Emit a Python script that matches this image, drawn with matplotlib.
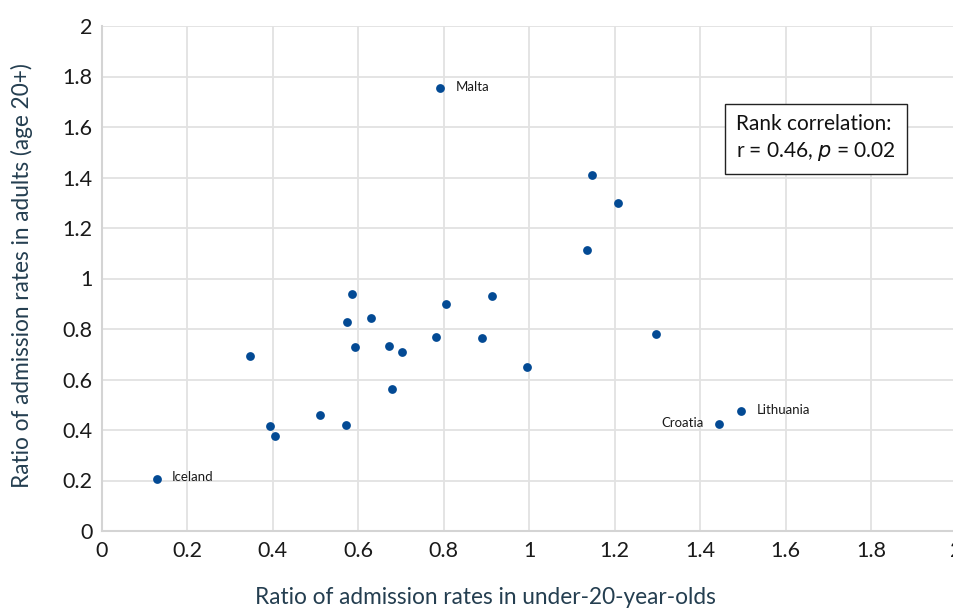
import matplotlib
matplotlib.use("Agg")
import matplotlib.pyplot as plt
import numpy as np

# ratio of admission rates: under-20s (x) vs adults 20+ (y), one point per country
countries = ["Malta", "", "", "", "", "", "", "", "", "", "", "", "",
             "", "", "", "", "", "", "", "Iceland", "", "", "Croatia", "Lithuania"]
ratio_young = [0.791, 0.584, 0.804, 1.146, 1.208, 1.134, 0.913, 0.574, 0.630,
               0.346, 0.592, 0.672, 0.701, 0.782, 0.889, 0.679, 0.510, 0.393,
               0.570, 0.404, 0.128, 0.995, 1.296, 1.445, 1.496]
ratio_adult = [1.754, 0.937, 0.899, 1.410, 1.300, 1.113, 0.931, 0.826, 0.844,
               0.694, 0.730, 0.733, 0.708, 0.768, 0.763, 0.564, 0.461, 0.417,
               0.418, 0.376, 0.207, 0.648, 0.780, 0.424, 0.475]

x_ticks = np.round(np.arange(0, 2.01, 0.2), 1)
y_ticks = np.round(np.arange(0, 2.01, 0.2), 1)

plt.rcParams['font.family'] = ['Lato', 'DejaVu Sans']

fig = plt.figure(figsize=(9.54, 6.08), dpi=100)
ax = fig.add_axes([102/954, 1-531/608, 854.6/954, 505/608])

ax.scatter(ratio_young, ratio_adult, s=40, color='#034a94', zorder=3, linewidths=0)

# country labels: Croatia sits left of its point, the others right
for name, xv, yv in zip(countries, ratio_young, ratio_adult):
    if not name:
        continue
    if name == "Croatia":
        ax.annotate(name, (xv, yv), xytext=(-11, 1), textcoords='offset points',
                    ha='right', va='center', fontsize=9.5, color='#1a1a1a')
    else:
        ax.annotate(name, (xv, yv), xytext=(11, 1), textcoords='offset points',
                    ha='left', va='center', fontsize=9.5, color='#1a1a1a')

ax.set_xlim(0, 2)
ax.set_ylim(0, 2)
ax.set_xticks(x_ticks)
ax.set_yticks(y_ticks)
ax.set_xticklabels([f"{v:g}" for v in x_ticks])
ax.set_yticklabels([f"{v:g}" for v in y_ticks])
ax.tick_params(length=0, labelsize=15.5, colors='#1a1a1a', pad=7)
ax.grid(True, color='#e2e2e2', linewidth=1.3)
ax.set_axisbelow(True)
for side in ['top', 'right']:
    ax.spines[side].set_visible(False)
for side in ['left', 'bottom']:
    ax.spines[side].set_color('#d4d4d4')
    ax.spines[side].set_linewidth(1.5)

fig.text(485/954, 1-597/608, "Ratio of admission rates in under-20-year-olds",
         ha='center', va='center', fontsize=16.3, color='#243e50')
fig.text(22/954, 1-276/608, "Ratio of admission rates in adults (age 20+)",
         ha='center', va='center', rotation=90, fontsize=16.3, color='#243e50')

ax.text(0.742, 0.778, "Rank correlation:\nr = 0.46, $\\it{p}$ = 0.02",
        transform=ax.transAxes, ha='left', va='center', fontsize=15,
        color='#111111', linespacing=1.35,
        bbox=dict(boxstyle='square,pad=0.55', facecolor='white',
                  edgecolor='#222222', linewidth=1.0))

fig.savefig("out.png", dpi=100)
